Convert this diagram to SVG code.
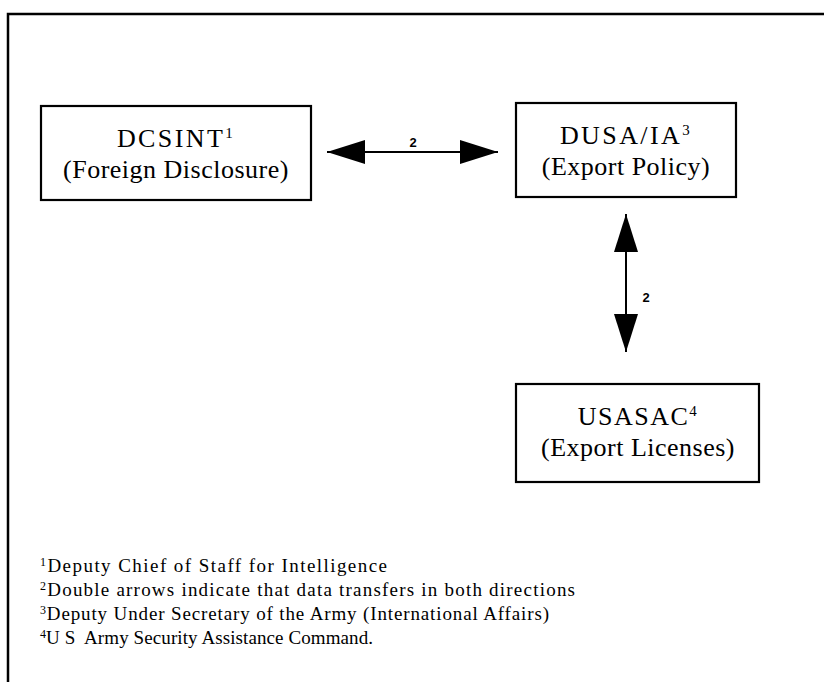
<svg xmlns="http://www.w3.org/2000/svg" width="824" height="682" viewBox="0 0 824 682">
<style>
.box{fill:#fff;stroke:#000;stroke-width:2.2}
.t{font-family:"Liberation Serif","Times New Roman",serif;font-size:26px;fill:#000;text-anchor:middle}
.h{letter-spacing:2.4px}
.s{letter-spacing:0.5px}
.sup{font-size:15px}
.lbl{font-family:"Liberation Sans",Arial,sans-serif;font-size:13px;font-weight:bold;fill:#000;text-anchor:middle}
.fn{font-family:"Liberation Serif","Times New Roman",serif;font-size:19px;fill:#000}
.fs{font-size:12px}
.ln{stroke:#000;stroke-width:2;fill:none}
</style>
<defs>
<marker id="ah" viewBox="0 0 38 24" refX="38" refY="12" markerWidth="38" markerHeight="24" markerUnits="userSpaceOnUse" orient="auto-start-reverse">
<path d="M0,0 L38,12 L0,24 Z" fill="#000"/>
</marker>
</defs>
<rect width="824" height="682" fill="#fff"/>
<path d="M8,682 L8,14 L824,14" fill="none" stroke="#000" stroke-width="2.5"/>
<g id="connectors">
<line class="ln" x1="327" y1="152" x2="498" y2="152" marker-start="url(#ah)" marker-end="url(#ah)"/>
<text class="lbl" x="413" y="147">2</text>
<line class="ln" x1="626" y1="214" x2="626" y2="352" marker-start="url(#ah)" marker-end="url(#ah)"/>
<text class="lbl" x="646" y="302">2</text>
</g>
<g id="dcsint">
<rect class="box" x="41" y="106" width="270" height="94"/>
<text class="t h" x="176" y="147">DCSINT<tspan class="sup" dy="-9">1</tspan></text>
<text class="t s" x="176" y="178">(Foreign Disclosure)</text>
</g>
<g id="dusa">
<rect class="box" x="516" y="103" width="220" height="94"/>
<text class="t h" x="626" y="144">DUSA/IA<tspan class="sup" dy="-9">3</tspan></text>
<text class="t s" x="626" y="175">(Export Policy)</text>
</g>
<g id="usasac">
<rect class="box" x="516" y="384" width="243" height="98"/>
<text class="t" style="letter-spacing:1.5px" x="638" y="425">USASAC<tspan class="sup" dy="-9">4</tspan></text>
<text class="t s" x="638" y="456">(Export Licenses)</text>
</g>
<g id="footnotes">
<text class="fn" x="40" y="572" textLength="347" lengthAdjust="spacing"><tspan class="fs" dy="-6">1</tspan><tspan dy="6">Deputy Chief of Staff for Intelligence</tspan></text>
<text class="fn" x="40" y="596" textLength="535" lengthAdjust="spacing"><tspan class="fs" dy="-6">2</tspan><tspan dy="6">Double arrows indicate that data transfers in both directions</tspan></text>
<text class="fn" x="40" y="620" textLength="509" lengthAdjust="spacing"><tspan class="fs" dy="-6">3</tspan><tspan dy="6">Deputy Under Secretary of the Army (International Affairs)</tspan></text>
<text class="fn" x="40" y="644" textLength="333" lengthAdjust="spacing" xml:space="preserve"><tspan class="fs" dy="-6">4</tspan><tspan dy="6">U S  Army Security Assistance Command.</tspan></text>
</g>
</svg>
